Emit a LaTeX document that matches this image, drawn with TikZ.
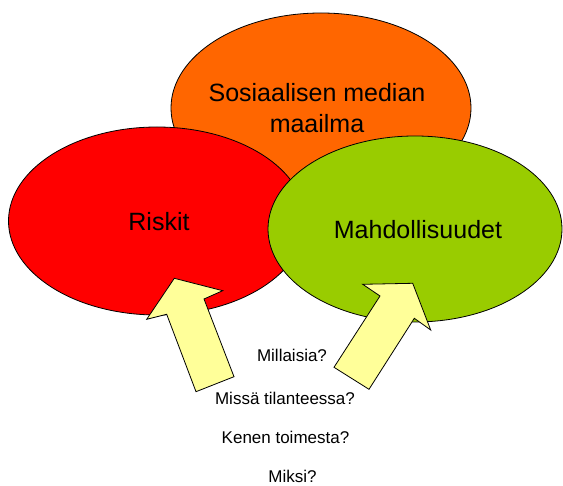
\documentclass[tikz,border=0pt]{standalone}
\usepackage{fontspec}
\setmainfont{Liberation Sans}
\usetikzlibrary{shapes.geometric}
\definecolor{worldorange}{HTML}{FF6600}
\definecolor{riskred}{HTML}{FF0000}
\definecolor{chancegreen}{HTML}{99CC00}
\definecolor{arrowyellow}{HTML}{FFFF99}
\begin{document}
\begin{tikzpicture}[x=1pt,y=-1pt,
  blob/.style={ellipse,draw=black,line width=0.8pt,inner sep=0pt},
  bigtext/.style={font=\fontsize{25}{30}\selectfont,anchor=base,inner sep=0pt},
  smalltext/.style={font=\fontsize{17}{20}\selectfont,anchor=base,inner sep=0pt},
  blockarrow/.style={fill=arrowyellow,draw=black,line width=0.8pt,line join=miter}]
\useasboundingbox (0,0) rectangle (563,486);
% ellipses
\node[blob,fill=worldorange,minimum width=300pt,minimum height=190pt] (world) at (321,108) {};
\node[blob,fill=riskred,minimum width=297pt,minimum height=188pt] (risks) at (157,221) {};
\node[blob,fill=chancegreen,minimum width=294pt,minimum height=186pt] (chances) at (415,229) {};
% texts in ellipses
\node[bigtext] (worldA) at (317,101.7) {Sosiaalisen median};
\node[bigtext] (worldB) at (317,132.7) {maailma};
\node[bigtext] (risktxt) at (159,230.7) {Riskit};
\node[bigtext] (chancetxt) at (418,238.3) {Mahdollisuudet};
% block arrows
\draw[blockarrow] (174.3,278.3) -- (222.7,290.7) -- (204,299) -- (234,376.7)
  -- (196,391.7) -- (166.7,314.3) -- (146.7,319.3) -- cycle;
\draw[blockarrow] (412.7,283.3) -- (430.7,330) -- (414.3,318.3) -- (369,389.3)
  -- (334,367.3) -- (380,296) -- (362.7,284.3) -- cycle;
% questions
\node[smalltext] (q1) at (292,361.7) {Millaisia?};
\node[smalltext] (q2) at (285,405) {Missä tilanteessa?};
\node[smalltext] (q3) at (285.5,443.3) {Kenen toimesta?};
\node[smalltext] (q4) at (292.5,483) {Miksi?};
\end{tikzpicture}
\end{document}
